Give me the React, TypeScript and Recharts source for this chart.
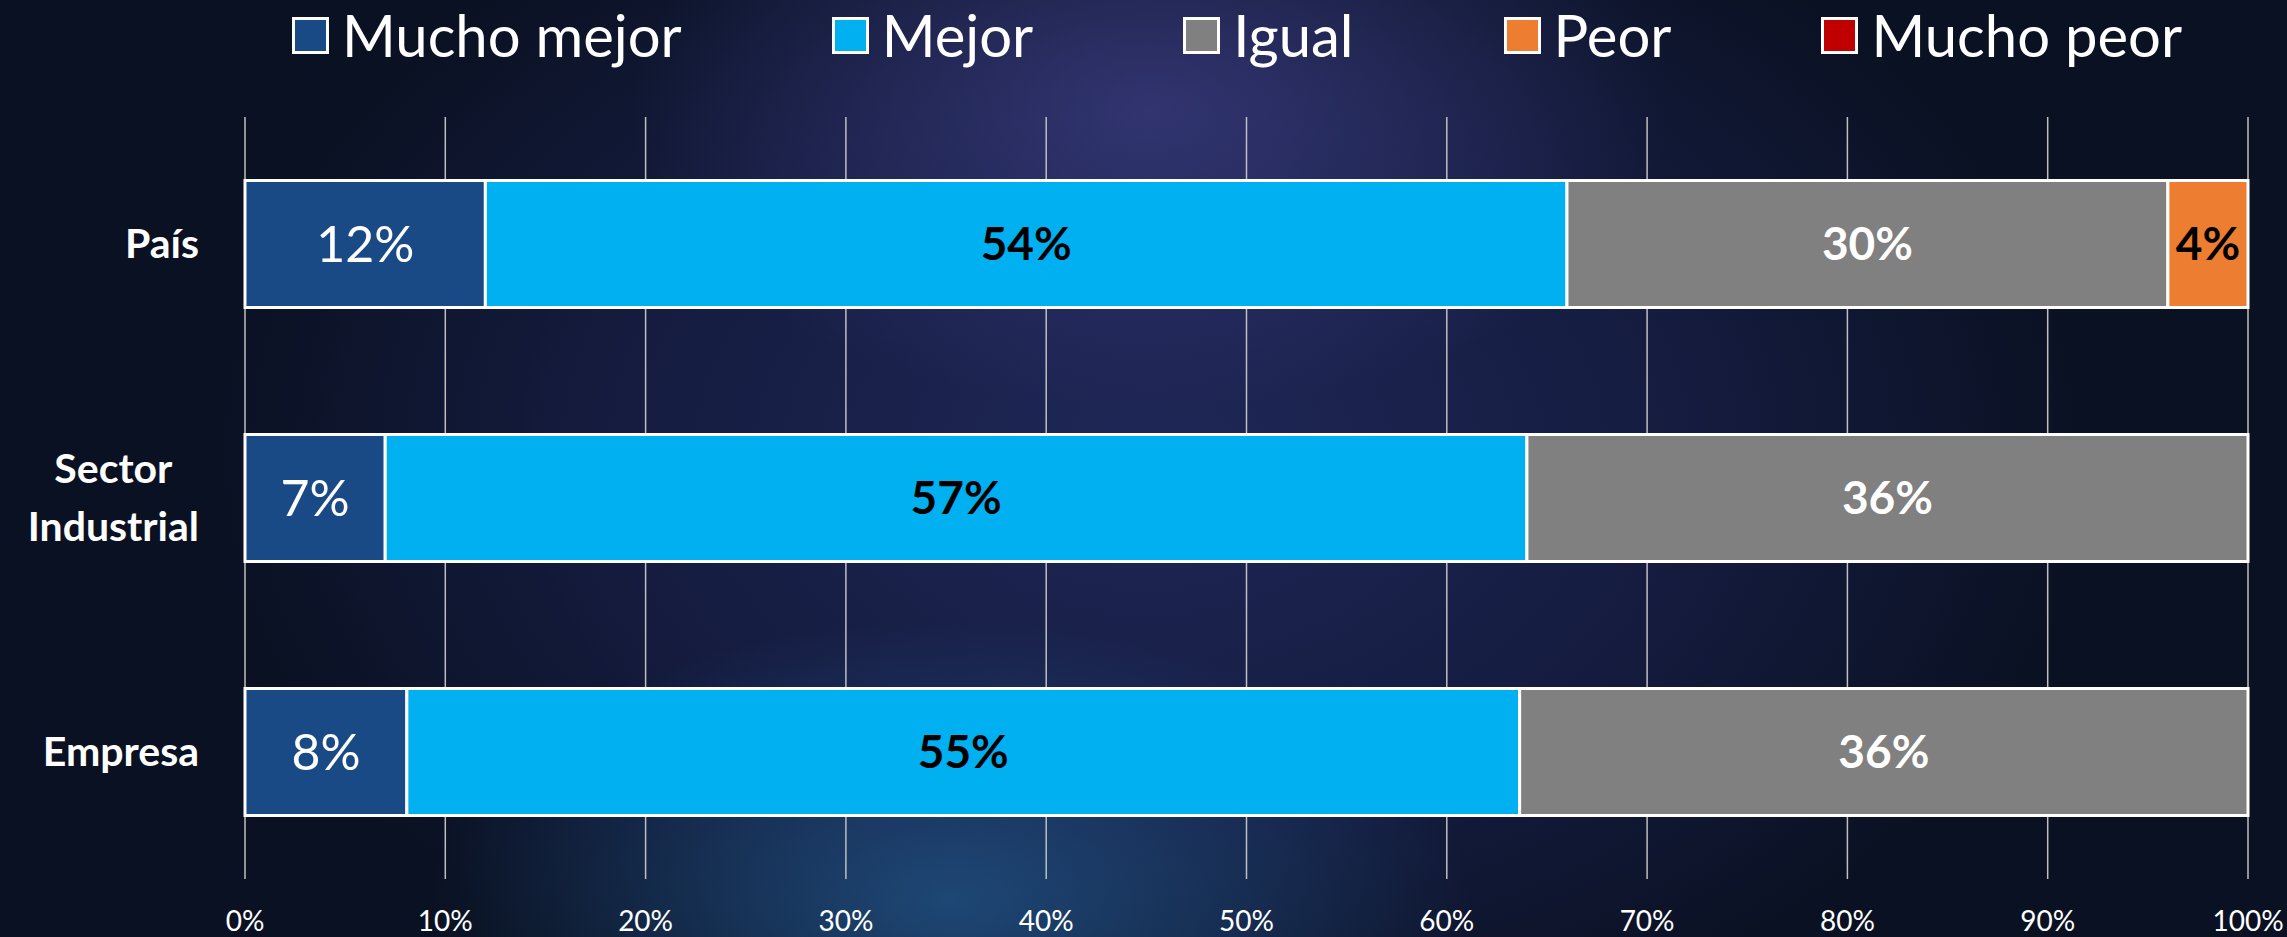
import { BarChart, Bar, XAxis, YAxis, CartesianGrid, Legend, LabelList } from "recharts";

const categories = ["País", "Sector Industrial", "Empresa"];
const muchoMejor = [12, 7, 8];
const mejor = [54, 57, 55];
const igual = [30, 36, 36];
const peor = [4, 0, 0];
const muchoPeor = [0, 0, 0];

const seriesKeys = ["muchoMejor", "mejor", "igual", "peor", "muchoPeor"];
const seriesNames = ["Mucho mejor", "Mejor", "Igual", "Peor", "Mucho peor"];
const seriesColors = ["#1a4a86", "#00b0f0", "#808080", "#ed7d31", "#c00000"];
const labelColors = ["#ffffff", "#000000", "#ffffff", "#000000", "#ffffff"];
const labelBold = [false, true, true, true, true];

const xTicks = [0, 0.1, 0.2, 0.3, 0.4, 0.5, 0.6, 0.7, 0.8, 0.9, 1];
const boundTicks = [0, 1, 2, 3];

const data = categories.map((name, i) => ({
  name,
  muchoMejor: muchoMejor[i],
  mejor: mejor[i],
  igual: igual[i],
  peor: peor[i],
  muchoPeor: muchoPeor[i],
}));

const FONT = "Lato, 'Open Sans', sans-serif";
const GRID = "#bfbfbf";

let ctx: CanvasRenderingContext2D | null = null;
function measure(text: string, font: string) {
  if (!ctx) ctx = document.createElement("canvas").getContext("2d");
  if (!ctx) return text.length * 20;
  ctx.font = font;
  return ctx.measureText(text).width;
}

function CategoryTick(props: any) {
  const { x, y, payload } = props;
  const words = String(payload.value).split(" ");
  const widths = words.map((w) => measure(w, `bold 41px Lato`));
  const cx = x - Math.max(...widths) / 2;
  const lineH = 58;
  const first = -((words.length - 1) * lineH) / 2 + 14;
  return (
    <text fill="#fff" fontFamily={FONT} fontWeight={700} fontSize={41} textAnchor="middle">
      {words.map((w, i) => (
        <tspan key={i} x={cx} y={y + first + i * lineH}>
          {w}
        </tspan>
      ))}
    </text>
  );
}

function PercentTick(props: any) {
  const { x, y, payload } = props;
  return (
    <text x={x} y={y + 52} fill="#fff" fontFamily={FONT} fontSize={28} textAnchor="middle">
      {Math.round(payload.value * 100)}%
    </text>
  );
}

function renderLegend() {
  return (
    <div
      style={{
        height: 70,
        display: "flex",
        alignItems: "center",
        paddingLeft: 292,
        fontFamily: FONT,
        fontSize: 58,
        color: "#fff",
        whiteSpace: "nowrap",
      }}
    >
      {seriesNames.map((name, i) => (
        <div
          key={name}
          style={{
            display: "flex",
            alignItems: "center",
            flexShrink: 0,
            marginRight: i < seriesNames.length - 1 ? 150 : 0,
          }}
        >
          <span
            style={{
              display: "inline-block",
              width: 31,
              height: 31,
              background: seriesColors[i],
              border: "3px solid #fff",
              marginRight: 13,
            }}
          />
          <span style={{ lineHeight: "70px" }}>{name}</span>
        </div>
      ))}
    </div>
  );
}

export default function App() {
  return (
    <div
      style={{
        position: "absolute",
        left: 0,
        top: 0,
        width: 2287,
        height: 937,
        overflow: "hidden",
        background:
          "radial-gradient(ellipse 520px 300px at 1150px 110px, rgba(72,72,150,0.55), rgba(72,72,150,0) 100%), " +
          "radial-gradient(ellipse 520px 280px at 950px 900px, rgba(40,110,170,0.55), rgba(40,110,170,0) 100%), " +
          "radial-gradient(ellipse 950px 650px at 1150px 450px, #1f2757 0%, #151c40 55%, #0a1122 100%)",
      }}
    >
      <BarChart
        width={2287}
        height={937}
        data={data}
        layout="vertical"
        stackOffset="expand"
        barCategoryGap="25%"
        margin={{ top: 47, right: 39, bottom: 0, left: 0 }}
      >
        <CartesianGrid horizontal={false} stroke={GRID} strokeWidth={1.5} />
        <Legend
          verticalAlign="top"
          content={renderLegend}
          wrapperStyle={{ top: 0, left: 0, width: 2287, height: 70 }}
        />
        <XAxis
          type="number"
          domain={[0, 1]}
          ticks={xTicks}
          axisLine={false}
          tickLine={false}
          tickSize={0}
          tickMargin={0}
          height={58}
          tick={<PercentTick />}
        />
        <YAxis
          yAxisId="bounds"
          type="number"
          domain={[0, 3]}
          ticks={boundTicks}
          allowDataOverflow
          width={0}
          tick={false}
          tickSize={15}
          axisLine={{ stroke: GRID, strokeWidth: 1.5 }}
          tickLine={{ stroke: GRID, strokeWidth: 1.5 }}
        />
        <YAxis
          type="category"
          dataKey="name"
          width={245}
          axisLine={false}
          tickLine={false}
          tickSize={0}
          tickMargin={46}
          interval={0}
          tick={<CategoryTick />}
        />
        {seriesKeys.map((key, i) => (
          <Bar
            key={key}
            dataKey={key}
            name={seriesNames[i]}
            stackId="a"
            fill={seriesColors[i]}
            stroke="#fff"
            strokeWidth={3}
            isAnimationActive={false}
          >
            <LabelList
              dataKey={key}
              position="center"
              formatter={(v: any) => (v ? `${v}%` : "")}
              fill={labelColors[i]}
              fontFamily={FONT}
              fontSize={labelBold[i] ? 46 : 50}
              fontWeight={labelBold[i] ? 700 : 400}
            />
          </Bar>
        ))}
      </BarChart>
    </div>
  );
}
